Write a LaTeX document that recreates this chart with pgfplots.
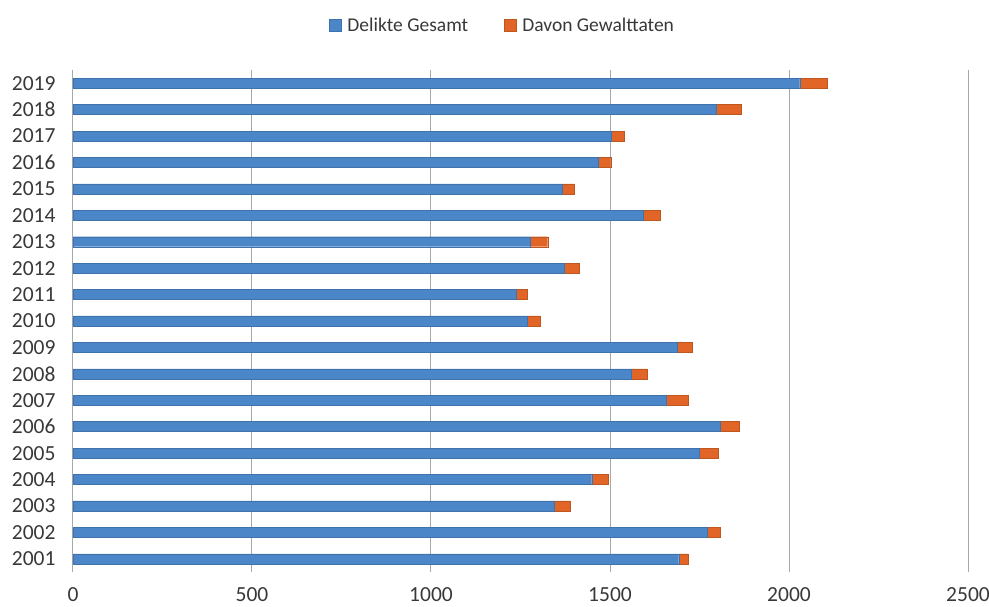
\documentclass[border=0pt]{standalone}
\usepackage{pgfplots}
\pgfplotsset{compat=1.18}
\usepackage{fontspec}
\setmainfont{Carlito}

\definecolor{gesamt}{HTML}{4A86C8}
\definecolor{gewalt}{HTML}{E06526}
\definecolor{gridgray}{HTML}{A8A8A8}

\begin{document}
\begin{tikzpicture}
\useasboundingbox (-73pt,-35pt) rectangle (916pt,572pt);
\begin{axis}[
	scale only axis,
	width=895pt,
	height=502pt,
	xbar stacked,
	bar width=10pt,
	xmin=0, xmax=2500,
	ymin=2000.5, ymax=2019.5,
	xtick={0,500,...,2500},
	ytick={2001,...,2019},
	/pgf/number format/1000 sep={},
	/pgf/number format/assume math mode=true,
	xmajorgrids,
	major grid style={gridgray, line width=1pt},
	axis line style={draw=none},
	major tick style={draw=none},
	tick label style={font=\fontsize{21.5}{24}\selectfont, text=black!78},
	xticklabel style={yshift=-12pt},
	yticklabel style={xshift=-14pt},
	legend columns=2,
	legend style={draw=none, fill=none, at={(0.48,1)}, anchor=south,
		yshift=33pt, font=\fontsize{19.5}{22}\selectfont, text=black!78,
		/tikz/every even column/.append style={column sep=34pt}},
	legend image code/.code={\fill[#1] (0pt,-6pt) rectangle (12pt,6pt);
		\path[draw=none, fill=none] (0pt,0pt) -- (16pt,0pt);},
]
\addplot[fill=gesamt, draw=gesamt!85!black, line width=0.4pt] coordinates {
(1692,2001) (1772,2002) (1343,2003) (1449,2004) (1748,2005) (1809,2006)
(1658,2007) (1560,2008) (1689,2009) (1269,2010) (1239,2011) (1373,2012)
(1276,2013) (1594,2014) (1367,2015) (1467,2016) (1504,2017) (1798,2018)
(2030,2019)
};
\addlegendentry{Delikte Gesamt}
\addplot[fill=gewalt, draw=gewalt!85!black, line width=0.4pt] coordinates {
(26,2001) (36,2002) (47,2003) (45,2004) (53,2005) (51,2006)
(61,2007) (44,2008) (41,2009) (35,2010) (29,2011) (42,2012)
(50,2013) (46,2014) (34,2015) (35,2016) (36,2017) (69,2018)
(76,2019)
};
\addlegendentry{Davon Gewalttaten}
\end{axis}
\end{tikzpicture}
\end{document}
